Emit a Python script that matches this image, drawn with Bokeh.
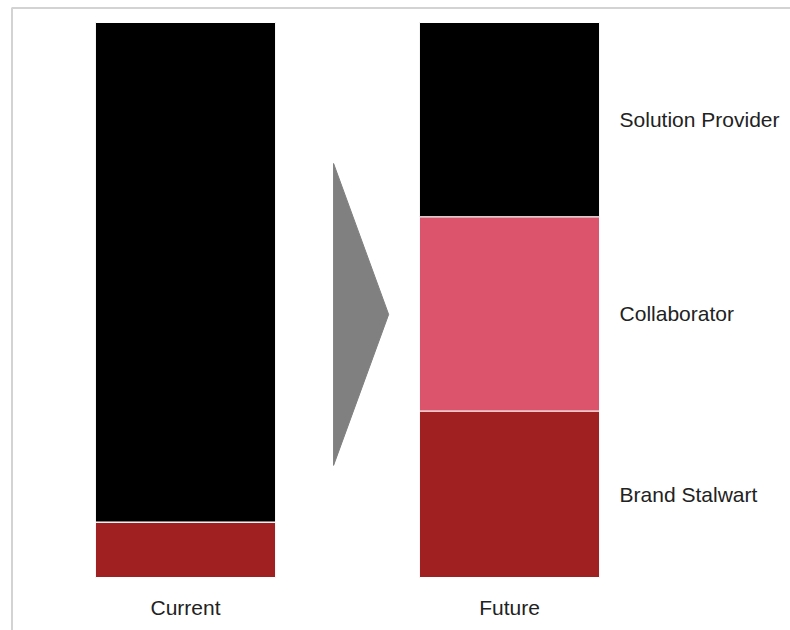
from bokeh.plotting import figure
from bokeh.models import ColumnDataSource, Range1d
from bokeh.core.properties import value
from bokeh.embed import file_html
from bokeh.resources import INLINE

# ---- data ----
categories = ["Current", "Future"]
segments = ["Brand Stalwart", "Collaborator", "Solution Provider"]
brand_stalwart = [10, 30]
collaborator = [0, 35]
solution_provider = [90, 35]
colors = ["#a01f21", "#db546b", "#000000"]

# ---- styling constants ----
W, H = 790, 630
BAR_W = 0.556
FONT = value("Liberation Sans")
FS = "21px"
TXT = "#222222"

xs = list(range(len(categories)))
src = ColumnDataSource(dict(x=xs, cat=categories,
                            **{"Brand Stalwart": brand_stalwart,
                               "Collaborator": collaborator,
                               "Solution Provider": solution_provider}))

px_x = 324.0   # pixels per x unit
px_y = 5.55    # pixels per y unit
x0 = -185.0 / px_x
x1 = x0 + W / px_x
y_top = 100 + 22.0 / px_y
y_bot = -(H - 577) / px_y

p = figure(width=W, height=H, output_backend="svg", toolbar_location=None,
           x_range=Range1d(x0, x1), y_range=Range1d(y_bot, y_top),
           min_border=0, min_border_left=0, min_border_right=0,
           min_border_top=0, min_border_bottom=0)
p.axis.visible = False
p.grid.visible = False
p.outline_line_color = None
p.background_fill_color = "white"
p.border_fill_color = "white"

# frame border (left and top)
bx = x0 + 11.5 / px_x
by = y_top - 7.5 / px_y
p.line(x=[bx, bx, x1], y=[y_bot, by, by], line_color="#d3d3d3", line_width=2)

# stacked bars
p.vbar_stack(segments, x="x", width=BAR_W, color=colors, source=src,
             line_color="white", line_width=1)

# arrow between bars
ax0, ax1 = 0.457, 0.627
p.patch(x=[ax0, ax0, ax1], y=[74.6, 20.2, 47.4], fill_color="#808080",
        line_color="#808080", line_width=1)

# category labels
p.text(x=xs, y=[-5.4] * len(xs), text=categories, text_align="center",
       text_baseline="middle", text_font=FONT, text_font_size=FS,
       text_color=TXT)

# segment labels next to last bar
last = len(categories) - 1
vals = [brand_stalwart[last], collaborator[last], solution_provider[last]]
mids, cum = [], 0
for v in vals:
    mids.append(cum + v / 2.0)
    cum += v
p.text(x=[last + BAR_W / 2] * 3, y=mids, text=segments, x_offset=20,
       text_align="left", text_baseline="middle", text_font=FONT,
       text_font_size=FS, text_color=TXT)

open("out.html", "w").write(file_html(p, INLINE))
